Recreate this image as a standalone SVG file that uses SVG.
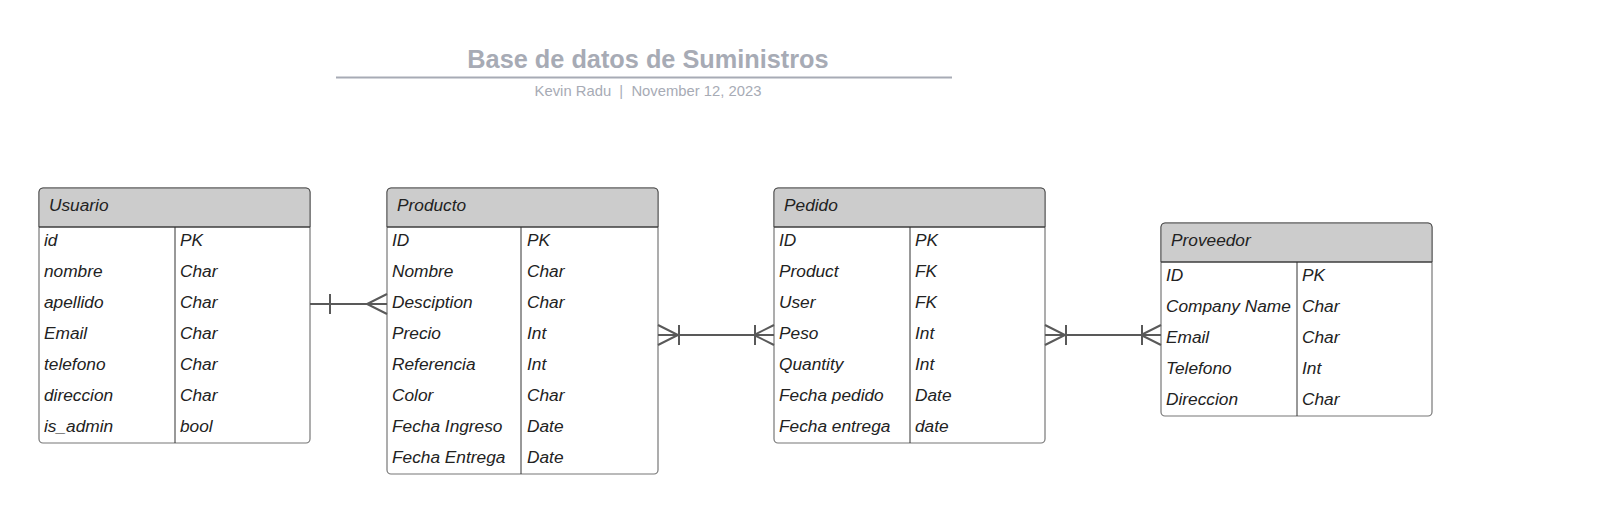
<svg xmlns="http://www.w3.org/2000/svg" width="1620" height="530" viewBox="0 0 1620 530">
<style>
.title{font-family:"Liberation Sans",Arial,sans-serif;font-weight:bold;font-size:25.3px;fill:#a7abb5}
.sub{font-family:"Liberation Sans",Arial,sans-serif;font-size:14.8px;fill:#a7abb5}
.t{font-family:"Liberation Sans",Arial,sans-serif;font-style:italic;font-size:17.3px;fill:#222}
.hdr{fill:#cccccc;stroke:#555;stroke-width:1}
.box{fill:#fff;stroke:#777;stroke-width:1.2}
.div{stroke:#333;stroke-width:1}
.c{stroke:#595959;stroke-width:2;fill:none}
</style>
<rect width="1620" height="530" fill="#fff"/>
<g id="title">
<text class="title" x="648" y="68" text-anchor="middle">Base de datos de Suministros</text>
<line x1="336" y1="77.5" x2="952" y2="77.5" stroke="#a7abb5" stroke-width="2"/>
<text class="sub" x="648" y="96" text-anchor="middle" xml:space="preserve">Kevin Radu  |  November 12, 2023</text>
</g>
<g id="usuario">
<rect class="box" x="39" y="188" width="271" height="255" rx="4"/>
<path class="hdr" d="M39,227 V192 a4,4 0 0 1 4,-4 H306 a4,4 0 0 1 4,4 V227 Z"/>
<line class="div" x1="39" y1="227" x2="310" y2="227"/>
<line class="div" x1="175" y1="227" x2="175" y2="443"/>
<text class="t" x="49" y="211">Usuario</text>
<text class="t" x="44" y="246">id</text><text class="t" x="180" y="246">PK</text>
<text class="t" x="44" y="277">nombre</text><text class="t" x="180" y="277">Char</text>
<text class="t" x="44" y="308">apellido</text><text class="t" x="180" y="308">Char</text>
<text class="t" x="44" y="339">Email</text><text class="t" x="180" y="339">Char</text>
<text class="t" x="44" y="370">telefono</text><text class="t" x="180" y="370">Char</text>
<text class="t" x="44" y="401">direccion</text><text class="t" x="180" y="401">Char</text>
<text class="t" x="44" y="432">is_admin</text><text class="t" x="180" y="432">bool</text>
</g>
<g id="producto">
<rect class="box" x="387" y="188" width="271" height="286" rx="4"/>
<path class="hdr" d="M387,227 V192 a4,4 0 0 1 4,-4 H654 a4,4 0 0 1 4,4 V227 Z"/>
<line class="div" x1="387" y1="227" x2="658" y2="227"/>
<line class="div" x1="521" y1="227" x2="521" y2="474"/>
<text class="t" x="397" y="211">Producto</text>
<text class="t" x="392" y="246">ID</text><text class="t" x="527" y="246">PK</text>
<text class="t" x="392" y="277">Nombre</text><text class="t" x="527" y="277">Char</text>
<text class="t" x="392" y="308">Desciption</text><text class="t" x="527" y="308">Char</text>
<text class="t" x="392" y="339">Precio</text><text class="t" x="527" y="339">Int</text>
<text class="t" x="392" y="370">Referencia</text><text class="t" x="527" y="370">Int</text>
<text class="t" x="392" y="401">Color</text><text class="t" x="527" y="401">Char</text>
<text class="t" x="392" y="432">Fecha Ingreso</text><text class="t" x="527" y="432">Date</text>
<text class="t" x="392" y="463">Fecha Entrega</text><text class="t" x="527" y="463">Date</text>
</g>
<g id="pedido">
<rect class="box" x="774" y="188" width="271" height="255" rx="4"/>
<path class="hdr" d="M774,227 V192 a4,4 0 0 1 4,-4 H1041 a4,4 0 0 1 4,4 V227 Z"/>
<line class="div" x1="774" y1="227" x2="1045" y2="227"/>
<line class="div" x1="910" y1="227" x2="910" y2="443"/>
<text class="t" x="784" y="211">Pedido</text>
<text class="t" x="779" y="246">ID</text><text class="t" x="915" y="246">PK</text>
<text class="t" x="779" y="277">Product</text><text class="t" x="915" y="277">FK</text>
<text class="t" x="779" y="308">User</text><text class="t" x="915" y="308">FK</text>
<text class="t" x="779" y="339">Peso</text><text class="t" x="915" y="339">Int</text>
<text class="t" x="779" y="370">Quantity</text><text class="t" x="915" y="370">Int</text>
<text class="t" x="779" y="401">Fecha pedido</text><text class="t" x="915" y="401">Date</text>
<text class="t" x="779" y="432">Fecha entrega</text><text class="t" x="915" y="432">date</text>
</g>
<g id="proveedor">
<rect class="box" x="1161" y="223" width="271" height="193" rx="4"/>
<path class="hdr" d="M1161,262 V227 a4,4 0 0 1 4,-4 H1428 a4,4 0 0 1 4,4 V262 Z"/>
<line class="div" x1="1161" y1="262" x2="1432" y2="262"/>
<line class="div" x1="1297" y1="262" x2="1297" y2="416"/>
<text class="t" x="1171" y="246">Proveedor</text>
<text class="t" x="1166" y="281">ID</text><text class="t" x="1302" y="281">PK</text>
<text class="t" x="1166" y="312">Company Name</text><text class="t" x="1302" y="312">Char</text>
<text class="t" x="1166" y="343">Email</text><text class="t" x="1302" y="343">Char</text>
<text class="t" x="1166" y="374">Telefono</text><text class="t" x="1302" y="374">Int</text>
<text class="t" x="1166" y="405">Direccion</text><text class="t" x="1302" y="405">Char</text>
</g>
<g id="connectors">
<path class="c" d="M310,304 H387 M330,294 V314 M387,294 L367,304 L387,314"/>
<path class="c" d="M658,335 H774 M658,325 L678,335 L658,345 M679,325 V345 M774,325 L754,335 L774,345 M755,325 V345"/>
<path class="c" d="M1045,335 H1161 M1045,325 L1065,335 L1045,345 M1066,325 V345 M1161,325 L1141,335 L1161,345 M1142,325 V345"/>
</g>
</svg>
